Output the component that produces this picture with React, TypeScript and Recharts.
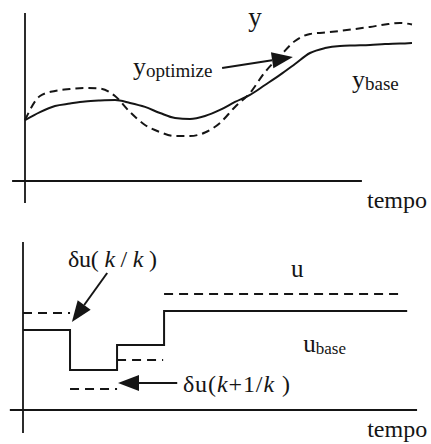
import { Line, LineChart, ReferenceLine, XAxis, YAxis } from "recharts"

// output response over time
const time = [0, 0.5, 1, 1.5, 2, 2.5, 3, 3.5, 4, 4.5, 5, 5.5, 6, 6.5, 7, 7.5, 8, 8.5, 9, 9.5, 10, 10.5, 11, 11.5, 12, 12.5, 12.9]
const yBase = [3.81, 4.31, 4.69, 4.84, 4.97, 5.03, 5.06, 4.88, 4.63, 4.25, 3.94, 3.88, 4.06, 4.44, 4.94, 5.38, 6.0, 6.63, 7.31, 8.0, 8.31, 8.44, 8.47, 8.5, 8.56, 8.59, 8.63]
const yOptimize = [3.81, 5.31, 5.63, 5.75, 5.81, 5.78, 5.31, 4.31, 3.5, 3.06, 2.81, 2.81, 3.03, 3.63, 4.63, 5.5, 6.81, 7.81, 8.75, 9.19, 9.28, 9.38, 9.5, 9.63, 9.78, 9.88, 9.78]

// control moves: start of each interval, then the horizon
const moves = [0, 1, 2, 3]
const horizon = 8.17
const uBase = [5.0, 2.5, 4.06, 6.19]
const uOptimal = [6.06, 1.31, 3.13, 7.25]
const moveEnds = [1, 2, 2.98, 8.0]

const outputRows = time.map((t, i) => ({ t, base: yBase[i], opt: yOptimize[i] }))
const baseRows = [...moves.map((t, i) => ({ t, u: uBase[i] })), { t: horizon, u: uBase[uBase.length - 1] }]
const optRows = moves.flatMap((t, i) => [
  { t, u: uOptimal[i] },
  { t: moveEnds[i], u: uOptimal[i] },
  { t: moveEnds[i], u: null },
])

const INK = "#151515"
const FONT = "'Liberation Serif', serif"
const W = 431
const TOP_H = 220
const BOT_H = 224

type Margin = { top: number; right: number; bottom: number; left: number }

const topMargin: Margin = { top: 21, right: 16, bottom: 39, left: 25 }
const topX: [number, number] = [0, 13]
const botMargin: Margin = { top: 30, right: 13, bottom: 34, left: 23 }
const botX: [number, number] = [0, 8.4]
const yDom: [number, number] = [0, 10]

// maps data coords to svg coords, same as the chart's own linear scales
const placer = (m: Margin, xd: [number, number], h: number) => (t: number, v: number) => ({
  x: m.left + ((t - xd[0]) / (xd[1] - xd[0])) * (W - m.left - m.right),
  y: m.top + (1 - (v - yDom[0]) / (yDom[1] - yDom[0])) * (h - m.top - m.bottom),
})
const atTop = placer(topMargin, topX, TOP_H)
const atBot = placer(botMargin, botX, BOT_H)

const Arrow = (props: any) => {
  const { x1, y1, x2, y2 } = props
  const ang = Math.atan2(y2 - y1, x2 - x1)
  const len = 21
  const half = 8
  const bx = x2 - len * Math.cos(ang)
  const by = y2 - len * Math.sin(ang)
  const px = -Math.sin(ang) * half
  const py = Math.cos(ang) * half
  return (
    <g>
      <line x1={x1} y1={y1} x2={bx} y2={by} stroke={INK} strokeWidth={2} />
      <polygon points={`${x2},${y2} ${bx + px},${by + py} ${bx - px},${by - py}`} fill={INK} />
    </g>
  )
}

type TagProps = {
  at: { x: number; y: number }
  main: string
  sub?: string
  size?: number
  subSize?: number
  anchor?: "start" | "middle"
}

const Tag = ({ at, main, sub, size = 24, subSize = 18, anchor = "start" }: TagProps) => (
  <text x={at.x} y={at.y} fill={INK} fontFamily={FONT} fontSize={size} textAnchor={anchor}>
    {main}
    {sub && <tspan fontSize={subSize} dy={2}>{sub}</tspan>}
  </text>
)

// δu(k/k) style label with italic k and stretched spacing
const DeltaTag = ({ at, inner, fit }: { at: { x: number; y: number }; inner: string[]; fit: number }) => (
  <text x={at.x} y={at.y} fill={INK} fontFamily={FONT} fontSize={24} textLength={fit} lengthAdjust="spacing">
    <tspan>δu(</tspan>
    {inner.map((s, i) => (
      <tspan key={i} fontStyle={s.trim() === "k" ? "italic" : "normal"}>{s}</tspan>
    ))}
    <tspan>)</tspan>
  </text>
)

const overlay = { position: "absolute" as const, left: 0, top: 0, pointerEvents: "none" as const }

export default function App() {
  return (
    <div style={{ position: "absolute", left: 0, top: 0, width: W, height: 444, background: "#fff" }}>
      <div style={{ position: "relative", width: W, height: TOP_H }}>
        <LineChart width={W} height={TOP_H} data={outputRows} margin={topMargin}>
          <XAxis dataKey="t" type="number" domain={topX} hide />
          <YAxis type="number" domain={yDom} hide />
          <ReferenceLine segment={[{ x: 0, y: -1.375 }, { x: 0, y: 10.5 }]} stroke={INK} strokeWidth={1.8} ifOverflow="visible" />
          <ReferenceLine segment={[{ x: -0.43, y: 0 }, { x: 11.23, y: 0 }]} stroke={INK} strokeWidth={1.8} ifOverflow="visible" />
          <Line dataKey="base" type="monotone" stroke={INK} strokeWidth={2} dot={false} isAnimationActive={false} />
          <Line dataKey="opt" type="monotone" stroke={INK} strokeWidth={2} strokeDasharray="8 5" dot={false} isAnimationActive={false} />
          <ReferenceLine segment={[{ x: 6.57, y: 7.06 }, { x: 8.93, y: 7.75 }]} shape={Arrow} ifOverflow="visible" />
        </LineChart>
        <svg width={W} height={TOP_H} style={overlay}>
          <Tag at={atTop(7.67, 9.69)} main="y" size={27} anchor="middle" />
          <Tag at={atTop(3.6, 6.63)} main="y" sub="optimize" size={26} subSize={19} />
          <Tag at={atTop(10.9, 5.81)} main="y" sub="base" size={26} subSize={19} />
          <Tag at={atTop(11.4, -1.69)} main="tempo" size={24} />
        </svg>
      </div>
      <div style={{ position: "relative", width: W, height: BOT_H }}>
        <LineChart width={W} height={BOT_H} margin={botMargin}>
          <XAxis dataKey="t" type="number" domain={botX} hide />
          <YAxis type="number" domain={yDom} hide />
          <ReferenceLine segment={[{ x: 0, y: -1.44 }, { x: 0, y: 10.5 }]} stroke={INK} strokeWidth={1.8} ifOverflow="visible" />
          <ReferenceLine segment={[{ x: -0.28, y: 0 }, { x: 8.38, y: 0 }]} stroke={INK} strokeWidth={1.8} ifOverflow="visible" />
          <Line data={baseRows} dataKey="u" type="stepAfter" stroke={INK} strokeWidth={2} dot={false} isAnimationActive={false} />
          <Line data={optRows} dataKey="u" type="linear" stroke={INK} strokeWidth={2} strokeDasharray="9 6" connectNulls={false} dot={false} isAnimationActive={false} />
          <ReferenceLine segment={[{ x: 1.79, y: 8.56 }, { x: 1.04, y: 5.5 }]} shape={Arrow} ifOverflow="visible" />
          <ReferenceLine segment={[{ x: 3.28, y: 1.69 }, { x: 2.02, y: 1.69 }]} shape={Arrow} ifOverflow="visible" />
        </LineChart>
        <svg width={W} height={BOT_H} style={overlay}>
          <DeltaTag at={atBot(0.957, 8.94)} inner={[" k", " / ", "k", " "]} fit={89} />
          <DeltaTag at={atBot(3.4, 1.125)} inner={["k", "+1/", "k", " "]} fit={107} />
          <Tag at={atBot(5.83, 8.31)} main="u" size={25} anchor="middle" />
          <Tag at={atBot(5.96, 3.63)} main="u" sub="base" size={25} subSize={17} />
          <Tag at={atBot(7.32, -1.69)} main="tempo" size={24} />
        </svg>
      </div>
    </div>
  )
}
